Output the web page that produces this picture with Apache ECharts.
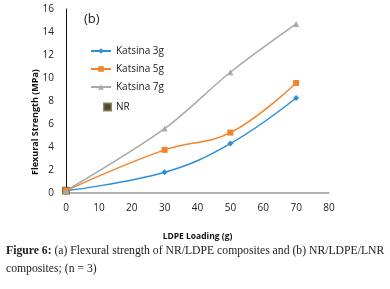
<!DOCTYPE html>
<html>
<head>
<meta charset="utf-8">
<title>Flexural strength</title>
<style>
  html, body { margin: 0; padding: 0; background: #fff; }
  #main { width: 390px; height: 289px; }
</style>
</head>
<body>
<div id="main"></div>
<script src="https://cdn.jsdelivr.net/npm/echarts@6/dist/echarts.min.js"></script>
<script>
// LDPE loading (g)
var loading = [0, 30, 50, 70];
var katsina3g = [0.2, 1.8, 4.3, 8.26];
var katsina5g = [0.2, 3.75, 5.25, 9.57];
var katsina7g = [0.2, 5.6, 10.5, 14.7];
var nr = [[0, 0.2]];

function pairs(vals) {
    return loading.map(function (x, i) { return [x, vals[i]]; });
}

var chart = echarts.init(document.getElementById('main'));
var font = 'Open Sans, Liberation Sans, sans-serif';
var legendText = { fontFamily: font, fontSize: 10, color: '#222' };

var option = {
    backgroundColor: '#fff',
    animation: false,
    grid: { left: 66, right: 61, top: 9, bottom: 96 },
    legend: [
        {
            orient: 'vertical',
            left: 85,
            top: 41,
            itemGap: 8,
            itemWidth: 20,
            itemHeight: 7,
            textStyle: legendText,
            data: ['Katsina 3g', 'Katsina 5g', 'Katsina 7g']
        },
        {
            orient: 'vertical',
            left: 98,
            top: 97,
            itemWidth: 7,
            itemHeight: 7,
            textStyle: legendText,
            data: ['NR']
        }
    ],
    xAxis: {
        type: 'value',
        min: 0, max: 80, interval: 10,
        name: 'LDPE Loading (g)',
        nameLocation: 'middle',
        nameGap: 39,
        nameTextStyle: { fontFamily: font, fontSize: 8.5, fontWeight: 'bold', color: '#111' },
        axisLine: { lineStyle: { color: '#999', width: 1.5 } },
        axisTick: { show: false },
        splitLine: { show: false },
        axisLabel: { fontFamily: font, fontSize: 10, color: '#222', margin: 10 }
    },
    yAxis: {
        type: 'value',
        min: 0, max: 16, interval: 2,
        axisLine: { show: true, lineStyle: { color: '#111', width: 1 } },
        axisTick: { show: false },
        splitLine: { show: false },
        axisLabel: { fontFamily: font, fontSize: 10, color: '#222', margin: 12 }
    },
    graphic: [
        {
            type: 'text', x: 35, y: 122, rotation: Math.PI / 2,
            style: {
                text: 'Flexural Strength (MPa)',
                font: 'bold 9px ' + font, fill: '#111',
                align: 'center', verticalAlign: 'middle'
            }
        },
        {
            type: 'text', left: 84, top: 13,
            style: { text: '(b)', font: '13px ' + font, fill: '#222' }
        },
        {
            type: 'text', left: 6, top: 242,
            style: {
                text: '{b|Figure 6:} (a) Flexural strength of NR/LDPE composites and (b) NR/LDPE/LNR\ncomposites; (n = 3)',
                fill: '#222',
                font: '11.7px "Liberation Serif", serif',
                lineHeight: 18,
                rich: {
                    b: { fontWeight: 'bold', fontFamily: 'Liberation Serif', fontSize: 11.7, fill: '#222', lineHeight: 18 }
                }
            }
        }
    ],
    series: [
        {
            name: 'Katsina 3g', type: 'line', smooth: 0.4,
            data: pairs(katsina3g),
            symbol: 'diamond', symbolSize: 6,
            itemStyle: { color: '#2b8fd8' },
            lineStyle: { width: 1.5 }
        },
        {
            name: 'Katsina 5g', type: 'line', smooth: 0.4,
            data: pairs(katsina5g),
            symbol: 'rect', symbolSize: 6,
            itemStyle: { color: '#f5822a' },
            lineStyle: { width: 1.5 }
        },
        {
            name: 'Katsina 7g', type: 'line', smooth: 0.3,
            data: pairs(katsina7g),
            symbol: 'triangle', symbolSize: 6,
            itemStyle: { color: '#a9a9a9' },
            lineStyle: { width: 1.5 }
        },
        {
            name: 'NR', type: 'scatter',
            data: nr,
            symbol: 'rect', symbolSize: 7,
            itemStyle: { color: '#1a1a1a', borderColor: '#7a6a2a', borderWidth: 1 }
        }
    ]
};

chart.setOption(option);
window.addEventListener('resize', function () { chart.resize(); });
</script>
</body>
</html>
